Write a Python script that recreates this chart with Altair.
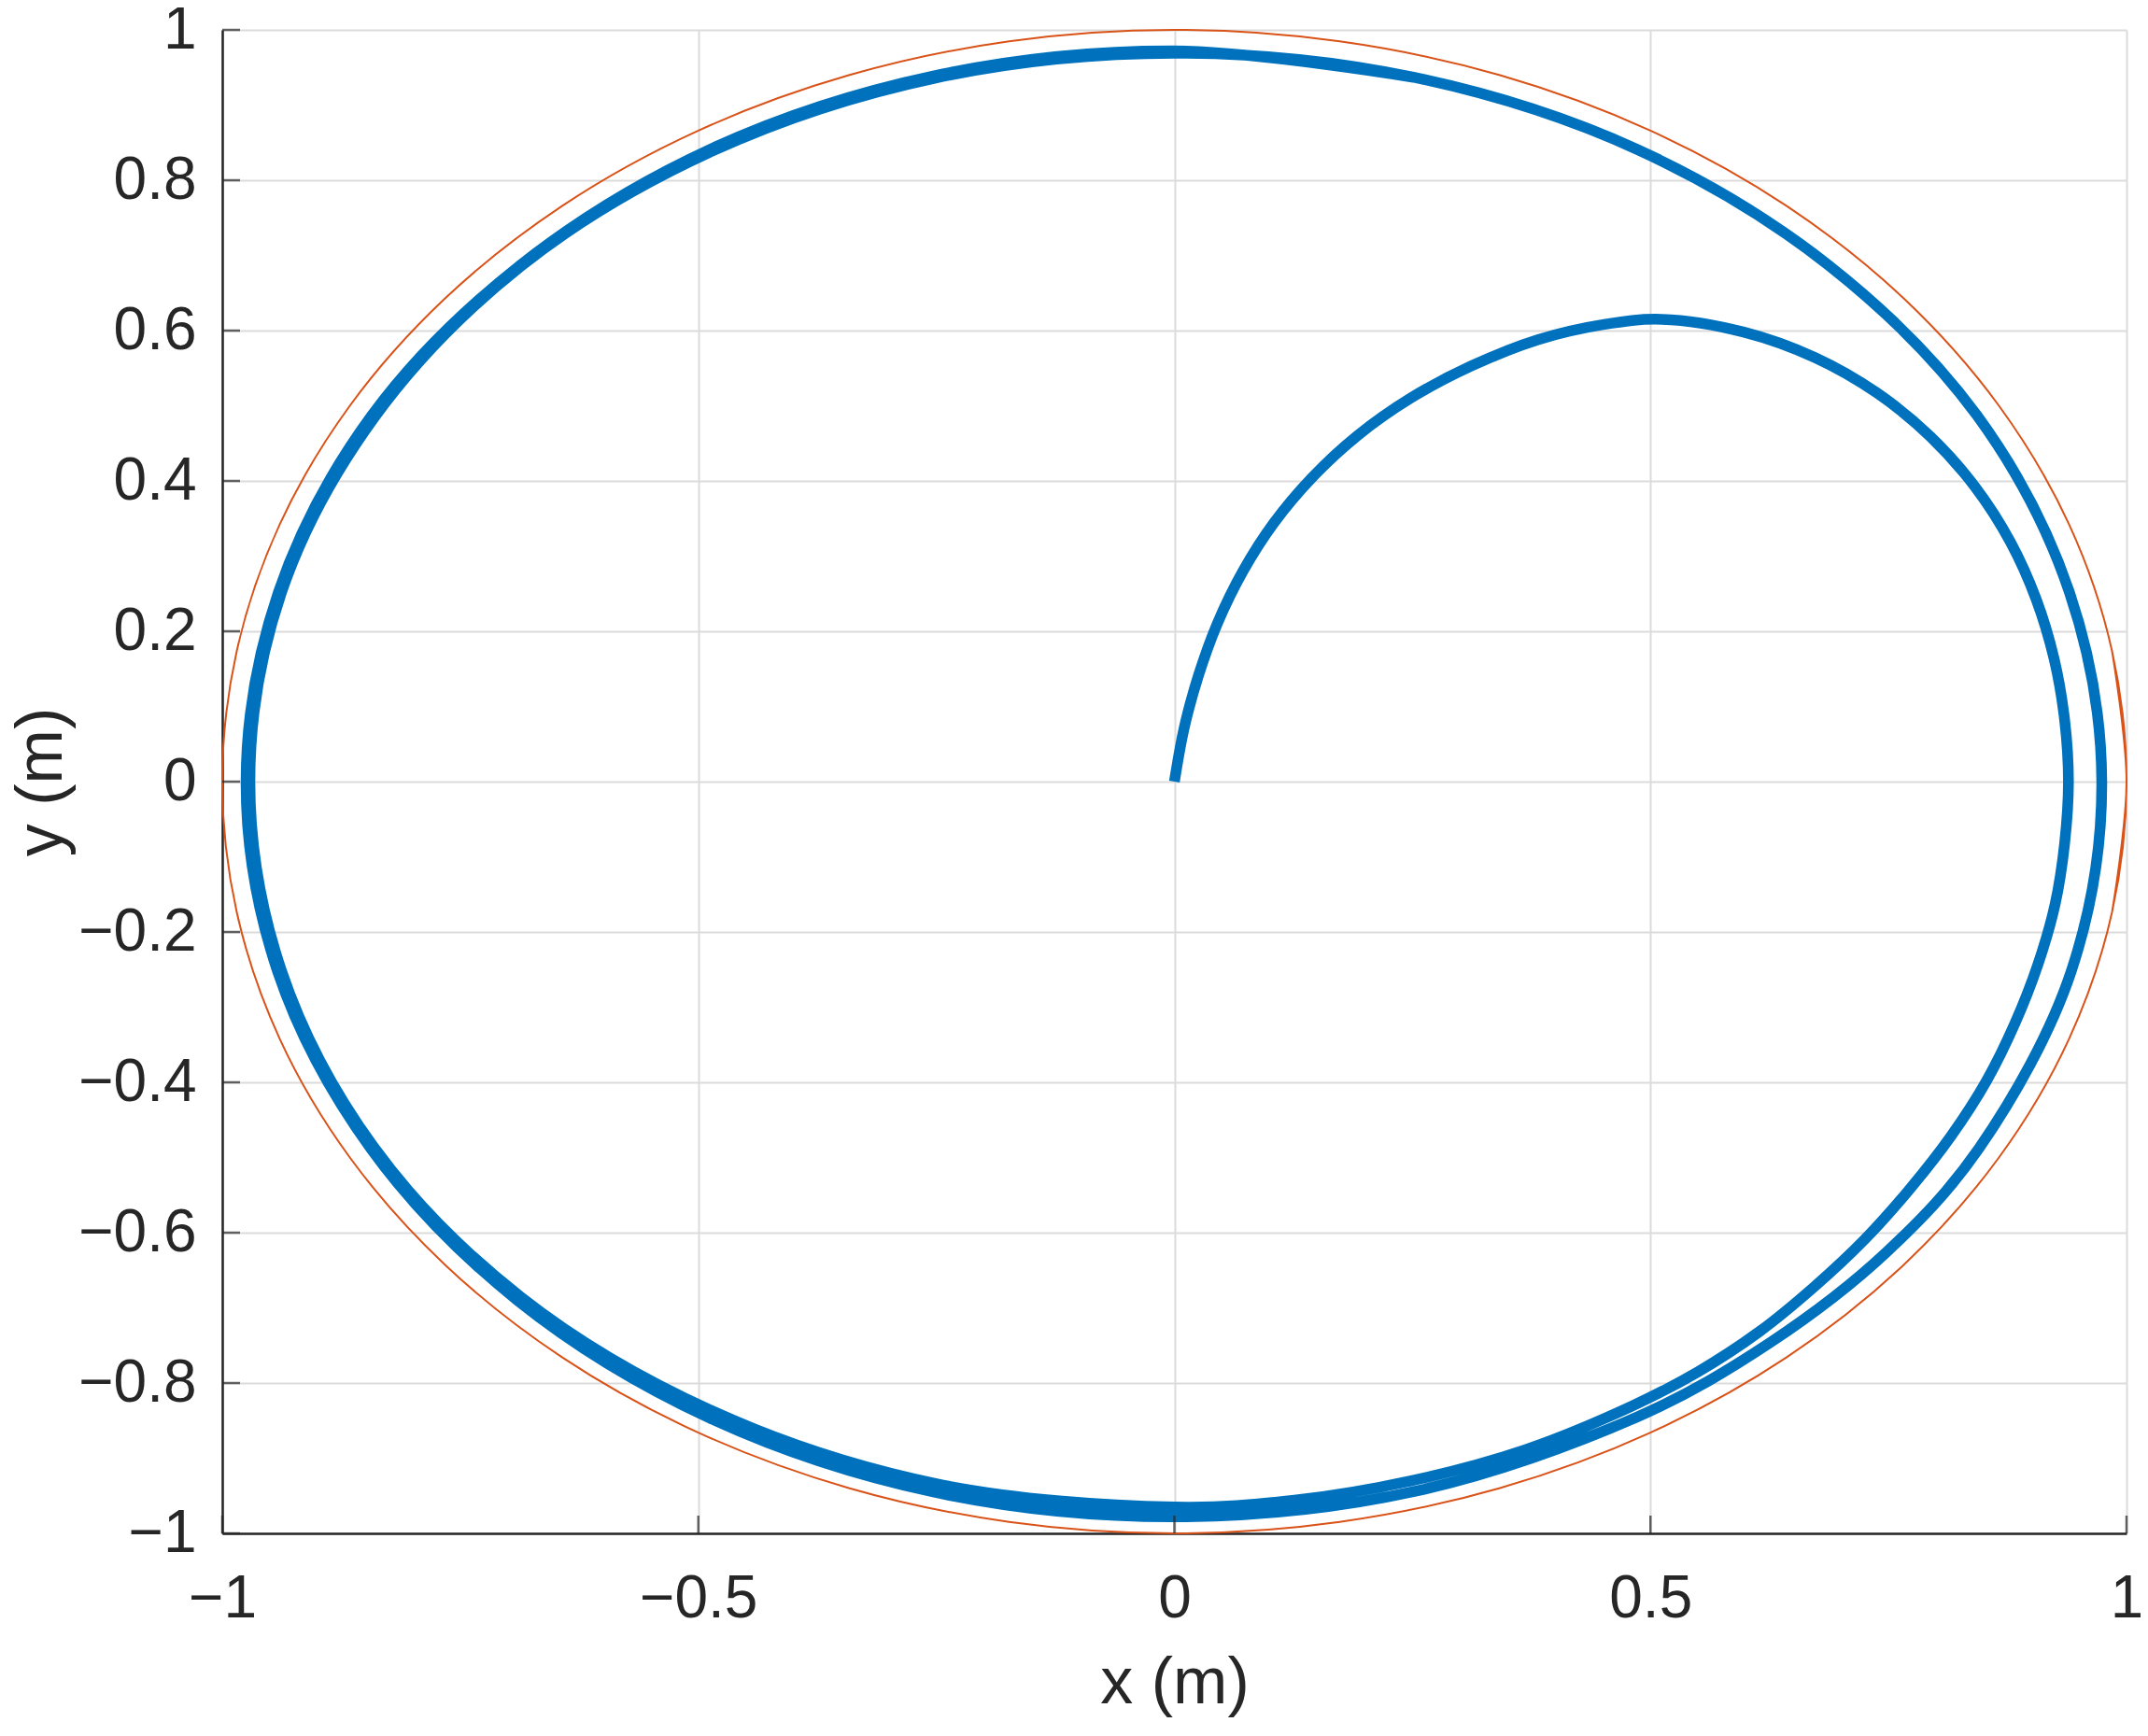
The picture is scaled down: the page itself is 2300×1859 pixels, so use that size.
import altair as alt
import pandas as pd

# Robot trajectory (blue), in path order
traj_x = [0.000, 0.010, 0.025, 0.045, 0.072, 0.105, 0.145, 0.192, 0.248, 0.312, 0.382, 0.450,
          0.512, 0.598, 0.673, 0.738, 0.794, 0.841, 0.878, 0.905, 0.924, 0.935, 0.939,
          0.935, 0.925, 0.907, 0.883, 0.853, 0.816, 0.773, 0.725, 0.672, 0.614, 0.550, 0.480,
          0.368, 0.249, 0.126, 0.000, -0.250, -0.484,
          -0.686, -0.841, -0.938, -0.971, -0.938, -0.840, -0.686, -0.485, -0.251, 0.000,
          0.251, 0.486, 0.687, 0.843, 0.940, 0.974,
          0.942, 0.845, 0.747, 0.626, 0.488, 0.253, 0.000, -0.253, -0.489, -0.690, -0.844,
          -0.942, -0.975, -0.941, -0.843, -0.687, -0.486, -0.252, 0.000, 0.251]
traj_y = [0.000, 0.070, 0.140, 0.210, 0.280, 0.345, 0.405, 0.460, 0.510, 0.553, 0.588, 0.608,
          0.615, 0.598, 0.564, 0.517, 0.459, 0.392, 0.319, 0.243, 0.163, 0.082, 0.000,
          -0.082, -0.163, -0.243, -0.321, -0.398, -0.471, -0.541, -0.609, -0.672, -0.732,
          -0.785, -0.831, -0.889, -0.930, -0.956, -0.965, -0.934, -0.838,
          -0.686, -0.486, -0.251, 0.000, 0.251, 0.485, 0.686, 0.839, 0.936, 0.969,
          0.937, 0.841, 0.687, 0.487, 0.252, 0.000,
          -0.252, -0.488, -0.627, -0.746, -0.844, -0.944, -0.978, -0.945, -0.846, -0.690,
          -0.488, -0.252, 0.000, 0.252, 0.487, 0.687, 0.842, 0.939, 0.972, 0.937]

# Reference path (red): unit circle, 10-degree points (ends overlap so it closes smoothly)
ref_x = [0.9848, 1.0, 0.9848, 0.9397, 0.8660, 0.7660, 0.6428, 0.5, 0.3420, 0.1736,
         0.0, -0.1736, -0.3420, -0.5, -0.6428, -0.7660, -0.8660, -0.9397, -0.9848,
         -1.0, -0.9848, -0.9397, -0.8660, -0.7660, -0.6428, -0.5, -0.3420, -0.1736,
         0.0, 0.1736, 0.3420, 0.5, 0.6428, 0.7660, 0.8660, 0.9397, 0.9848, 1.0, 0.9848]
ref_y = [-0.1736, 0.0, 0.1736, 0.3420, 0.5, 0.6428, 0.7660, 0.8660, 0.9397, 0.9848,
         1.0, 0.9848, 0.9397, 0.8660, 0.7660, 0.6428, 0.5, 0.3420, 0.1736,
         0.0, -0.1736, -0.3420, -0.5, -0.6428, -0.7660, -0.8660, -0.9397, -0.9848,
         -1.0, -0.9848, -0.9397, -0.8660, -0.7660, -0.6428, -0.5, -0.3420, -0.1736, 0.0, 0.1736]

x_ticks = [-1, -0.5, 0, 0.5, 1]
y_ticks = [-1, -0.8, -0.6, -0.4, -0.2, 0, 0.2, 0.4, 0.6, 0.8, 1]

traj = pd.DataFrame({"x": traj_x, "y": traj_y, "i": range(len(traj_x))})
ref = pd.DataFrame({"x": ref_x, "y": ref_y, "i": range(len(ref_x))})
xt = pd.DataFrame({"v": x_ticks})
yt = pd.DataFrame({"v": y_ticks})

FONT = "Liberation Sans"
INK = "#262626"
xscale = alt.Scale(domain=[-1, 1], nice=False, zero=False)
yscale = alt.Scale(domain=[-1, 1], nice=False, zero=False)

xaxis = alt.Axis(values=x_ticks, format="~g", title="x (m)", grid=True, ticks=False,
                 labelFontSize=64, labelFont=FONT, labelColor=INK, labelPadding=38,
                 titleFontSize=70, titleFont=FONT, titleFontWeight="normal", titleColor=INK,
                 titleY=181, titleBaseline="alphabetic",
                 domainColor=INK, domainWidth=2.5, gridColor="#dbdbdb", gridWidth=2,
                 labelFlush=False)
yaxis = alt.Axis(values=y_ticks, format="~g", title="y (m)", grid=True, ticks=False,
                 labelFontSize=64, labelFont=FONT, labelColor=INK, labelPadding=28,
                 titleFontSize=70, titleFont=FONT, titleFontWeight="normal", titleColor=INK,
                 titleX=-173, titleBaseline="alphabetic",
                 domainColor=INK, domainWidth=2.5, gridColor="#dbdbdb", gridWidth=2,
                 labelFlush=False)

blue = alt.Chart(traj).mark_line(color="#0072BD", strokeWidth=11.5, interpolate="catmull-rom",
                                 strokeCap="butt", strokeJoin="round").encode(
    x=alt.X("x:Q", scale=xscale, axis=xaxis),
    y=alt.Y("y:Q", scale=yscale, axis=yaxis),
    order="i:Q",
)
red = alt.Chart(ref).mark_line(color="#D95319", strokeWidth=2, interpolate="catmull-rom").encode(
    x=alt.X("x:Q", scale=xscale),
    y=alt.Y("y:Q", scale=yscale),
    order="i:Q",
)
xtick = alt.Chart(xt).mark_tick(orient="vertical", size=19, thickness=2.5, color=INK,
                                yOffset=-9.5).encode(
    x=alt.X("v:Q", scale=xscale), y=alt.datum(-1, scale=yscale))
ytick = alt.Chart(yt).mark_tick(orient="horizontal", size=19, thickness=2.5, color=INK,
                                xOffset=9.5).encode(
    y=alt.Y("v:Q", scale=yscale), x=alt.datum(-1, scale=xscale))

chart = alt.layer(blue, red, xtick, ytick).properties(
    width=2039, height=1610,
    autosize=alt.AutoSizeParams(type="none"),
    padding={"left": 230, "top": 24, "right": 15, "bottom": 200},
    background="white",
).configure_view(stroke=None)

chart.save("out.html", embed_options={"renderer": "svg", "actions": False})
